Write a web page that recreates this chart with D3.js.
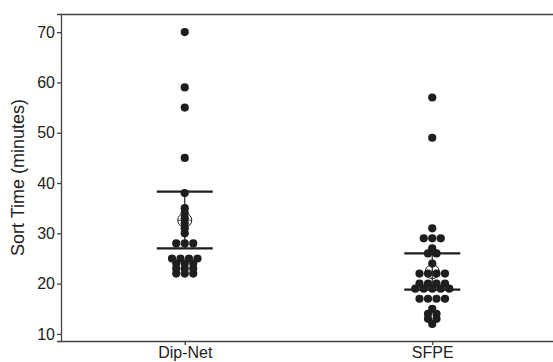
<!DOCTYPE html>
<html>
<head>
<meta charset="utf-8">
<script src="https://cdn.jsdelivr.net/npm/d3@7/dist/d3.min.js"></script>
<style>
  body { margin: 0; background: #fff; }
  svg { display: block; font-family: "Liberation Sans", Arial, sans-serif; }
</style>
</head>
<body>
<div id="chart"></div>
<script>
const categories = ['Dip-Net', 'SFPE'];
const dipNet = [70, 59, 55, 45, 38, 35, 34, 33, 32, 31, 30, 28, 28, 28,
  25, 25, 25, 25, 24, 24, 24, 23, 23, 23, 22, 22, 22];
const sfpe = [57, 49, 31, 29, 29, 29, 27, 26, 26, 24, 22, 22, 22, 22,
  20, 20, 20, 20, 19, 19, 19, 19, 19, 17, 17, 17, 17, 15, 14, 14, 13, 13, 12];
const means = [32.6, 22.4];
const upperBars = [38.3, 26.0];
const lowerBars = [27.0, 18.8];
const yTicks = [10, 20, 30, 40, 50, 60, 70];

const width = 553, height = 362;
const margin = { top: 14, right: 0, bottom: 21, left: 61 };
const ink = '#1e1e1e';

const svg = d3.select('#chart').append('svg')
  .attr('width', width)
  .attr('height', height);

const x = d3.scalePoint()
  .domain(categories)
  .range([margin.left, width + 3])
  .padding(0.5);

const y = d3.scaleLinear()
  .domain([8.6, 73.6])
  .range([height - margin.bottom, margin.top]);

// top frame line (no right border in the original)
svg.append('line')
  .attr('x1', margin.left).attr('x2', width)
  .attr('y1', margin.top + 0.5).attr('y2', margin.top + 0.5)
  .attr('stroke', '#444').attr('stroke-width', 1.3);

const yAxis = svg.append('g')
  .attr('transform', `translate(${margin.left},0)`)
  .call(d3.axisLeft(y).tickValues(yTicks).tickSize(4).tickPadding(2));

const xAxis = svg.append('g')
  .attr('transform', `translate(0,${height - margin.bottom})`)
  .call(d3.axisBottom(x).tickSize(4).tickPadding(2).tickSizeOuter(0));

[yAxis, xAxis].forEach(g => {
  g.selectAll('path, line').attr('stroke', '#444').attr('stroke-width', 1.3);
  g.selectAll('text').attr('fill', '#222').style('font-size', '16px');
});

svg.append('text')
  .attr('transform', `translate(24, ${(margin.top + height - margin.bottom) / 2}) rotate(-90)`)
  .attr('text-anchor', 'middle')
  .attr('fill', '#222')
  .style('font-size', '18px')
  .text('Sort Time (minutes)');

// scatter: equal values are spread side by side in a row
const spacing = 8.5;
const r = 4.1;
const points = [];
[dipNet, sfpe].forEach((vals, ci) => {
  const groups = d3.group(vals, v => v);
  groups.forEach((arr, v) => {
    arr.forEach((_, i) => {
      points.push({ cat: categories[ci], value: v, off: (i - (arr.length - 1) / 2) * spacing });
    });
  });
});

svg.append('g').selectAll('circle')
  .data(points)
  .join('circle')
  .attr('cx', d => x(d.cat) + d.off)
  .attr('cy', d => y(d.value))
  .attr('r', r)
  .attr('fill', ink);

// error bars (horizontal lines only)
const barHalf = 28;
const summary = categories.map((c, i) => ({ cat: c, mean: means[i], hi: upperBars[i], lo: lowerBars[i] }));
const sg = svg.append('g');
summary.forEach(s => {
  [s.hi, s.lo].forEach(v => {
    sg.append('line')
      .attr('x1', x(s.cat) - barHalf).attr('x2', x(s.cat) + barHalf)
      .attr('y1', y(v)).attr('y2', y(v))
      .attr('stroke', ink).attr('stroke-width', 2.2);
  });
  sg.append('line')
    .attr('x1', x(s.cat)).attr('x2', x(s.cat))
    .attr('y1', y(s.hi)).attr('y2', y(s.lo))
    .attr('stroke', ink).attr('stroke-width', 1.2);
  // mean marker: open circle with cross
  const cx = x(s.cat), cy = y(s.mean);
  sg.append('circle')
    .attr('cx', cx).attr('cy', cy).attr('r', 7)
    .attr('fill', 'none').attr('stroke', ink).attr('stroke-width', 1);
  sg.append('line')
    .attr('x1', cx - 7).attr('x2', cx + 7).attr('y1', cy).attr('y2', cy)
    .attr('stroke', ink).attr('stroke-width', 0.8);
});
</script>
</body>
</html>
